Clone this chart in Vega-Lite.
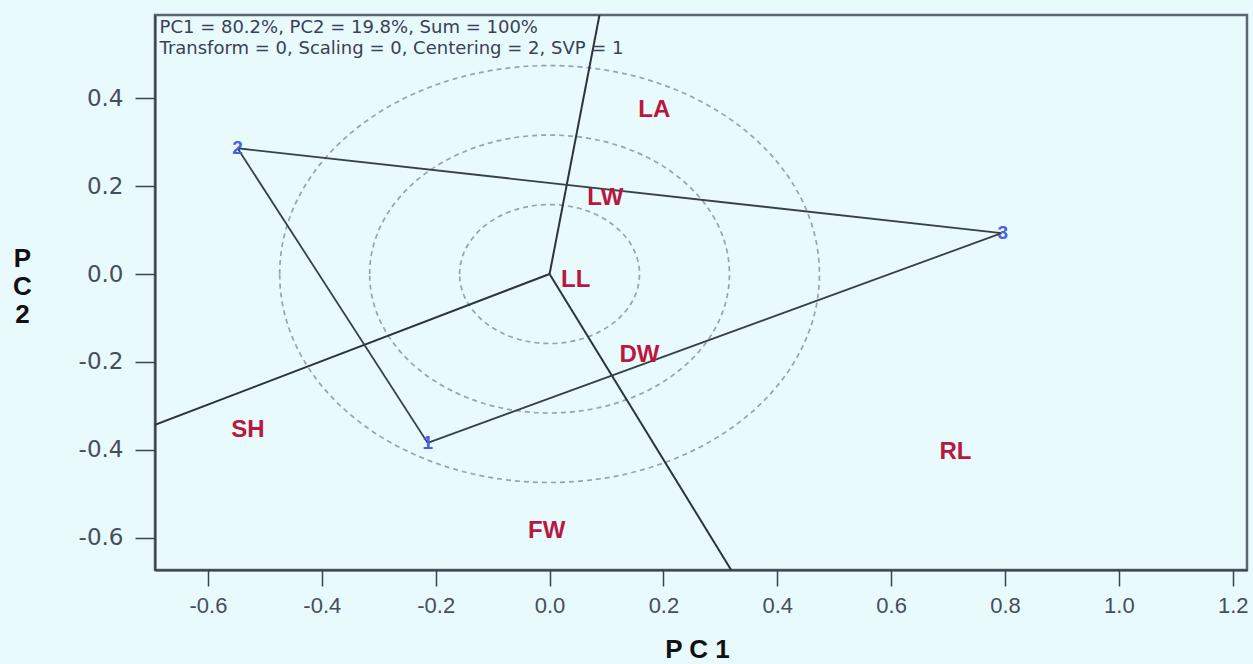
{
  "$schema": "https://vega.github.io/schema/vega-lite/v6.json",
  "width": 1092,
  "height": 555,
  "autosize": {"type": "none"},
  "padding": {"left": 155, "top": 15, "right": 6, "bottom": 94},
  "background": "#e8fafc",
  "config": {
    "view": {"stroke": "#5b6470", "strokeWidth": 2.5, "fill": "#e8fafc"},
    "axis": {"grid": false}
  },
  "datasets": {
    "circles": [{"cx": 0, "cy": 0, "r": 0.158}, {"cx": 0, "cy": 0, "r": 0.316}, {"cx": 0, "cy": 0, "r": 0.474}],
    "rays": [
      {"x1": 0, "y1": 0, "x2": 0.0877, "y2": 0.589},
      {"x1": 0, "y1": 0, "x2": -0.693, "y2": -0.343},
      {"x1": 0, "y1": 0, "x2": 0.319, "y2": -0.673}
    ],
    "hull": [
      {"seq": 1, "gen": "2", "x": -0.548, "y": 0.286},
      {"seq": 2, "gen": "3", "x": 0.794, "y": 0.093},
      {"seq": 3, "gen": "1", "x": -0.214, "y": -0.384},
      {"seq": 4, "gen": "2", "x": -0.548, "y": 0.286}
    ],
    "genotypes": [
      {"gen": "1", "x": -0.214, "y": -0.384},
      {"gen": "2", "x": -0.548, "y": 0.286},
      {"gen": "3", "x": 0.796, "y": 0.093}
    ],
    "traits": [
      {"trait": "LA", "x": 0.184, "y": 0.373},
      {"trait": "LW", "x": 0.098, "y": 0.173},
      {"trait": "LL", "x": 0.046, "y": -0.014},
      {"trait": "DW", "x": 0.158, "y": -0.184},
      {"trait": "SH", "x": -0.530, "y": -0.355},
      {"trait": "FW", "x": -0.005, "y": -0.584},
      {"trait": "RL", "x": 0.713, "y": -0.405}
    ],
    "info": [
      {"text": "PC1 = 80.2%, PC2 = 19.8%, Sum = 100%", "x": -0.685, "y": 0.548},
      {"text": "Transform = 0, Scaling = 0, Centering = 2, SVP = 1", "x": -0.685, "y": 0.500}
    ]
  },
  "layer": [
    {
      "data": {"name": "circles"},
      "mark": {"type": "point", "shape": "M-1,0A1,0.7725,0,1,1,1,0A1,0.7725,0,1,1,-1,0Z", "filled": false, "stroke": "#95a2b8", "strokeWidth": 1.7, "strokeDash": [5, 4], "opacity": 1},
      "encoding": {
        "x": {"field": "cx", "type": "quantitative",
          "scale": {"domain": [-0.693, 1.225], "nice": false, "zero": false},
          "axis": {
            "values": [-0.6, -0.4, -0.2, 0, 0.2, 0.4, 0.6, 0.8, 1.0, 1.2],
            "labelExpr": "replace(format(datum.value, '.1f'), '\u2212', '-')",
            "domainColor": "#3a4250", "domainWidth": 2,
            "tickColor": "#3a4250", "tickWidth": 1.5, "tickSize": 16,
            "labelPadding": 9, "labelFont": "Liberation Sans", "labelFontSize": 22, "labelColor": "#474d5c",
            "title": "P  C  1", "titleFont": "Liberation Sans", "titleFontSize": 26, "titleFontWeight": "bold", "titleColor": "#111111",
            "titleX": 542, "titleY": 87, "titleBaseline": "alphabetic"
          }
        },
        "y": {"field": "cy", "type": "quantitative",
          "scale": {"domain": [-0.673, 0.589], "nice": false, "zero": false},
          "axis": {
            "values": [-0.6, -0.4, -0.2, 0, 0.2, 0.4],
            "labelExpr": "replace(format(datum.value, '.1f'), '\u2212', '-')",
            "domainColor": "#3a4250", "domainWidth": 2,
            "tickColor": "#3a4250", "tickWidth": 1.5, "tickSize": 20,
            "labelPadding": 12, "labelFont": "DejaVu Sans", "labelFontSize": 23, "labelColor": "#474d5c",
            "title": ["P", "C", "2"], "titleAngle": 0, "titleFont": "Liberation Sans", "titleFontSize": 26, "titleFontWeight": "bold", "titleColor": "#111111",
            "titleLineHeight": 28, "titleAlign": "center", "titleBaseline": "top", "titleX": -133, "titleY": 230
          }
        },
        "size": {"field": "r", "type": "quantitative", "scale": {"type": "pow", "exponent": 2, "domain": [0, 0.474], "range": [0, 291300]}, "legend": null}
      }
    },
    {
      "data": {"name": "rays"},
      "mark": {"type": "rule", "color": "#2c333d", "strokeWidth": 2, "clip": true},
      "encoding": {
        "x": {"field": "x1", "type": "quantitative"},
        "y": {"field": "y1", "type": "quantitative"},
        "x2": {"field": "x2"},
        "y2": {"field": "y2"}
      }
    },
    {
      "data": {"name": "hull"},
      "mark": {"type": "line", "color": "#3a4048", "strokeWidth": 1.8},
      "encoding": {
        "x": {"field": "x", "type": "quantitative"},
        "y": {"field": "y", "type": "quantitative"},
        "order": {"field": "seq", "type": "quantitative"}
      }
    },
    {
      "data": {"name": "genotypes"},
      "mark": {"type": "text", "font": "Liberation Sans", "fontSize": 19, "fontWeight": "bold", "color": "#4a5ee6", "align": "center", "baseline": "middle"},
      "encoding": {
        "x": {"field": "x", "type": "quantitative"},
        "y": {"field": "y", "type": "quantitative"},
        "text": {"field": "gen"}
      }
    },
    {
      "data": {"name": "traits"},
      "mark": {"type": "text", "font": "Liberation Sans", "fontSize": 24, "fontWeight": "bold", "color": "#b8183e", "align": "center", "baseline": "middle"},
      "encoding": {
        "x": {"field": "x", "type": "quantitative"},
        "y": {"field": "y", "type": "quantitative"},
        "text": {"field": "trait"}
      }
    },
    {
      "data": {"name": "info"},
      "mark": {"type": "text", "font": "DejaVu Sans", "fontSize": 18, "color": "#3a4058", "align": "left", "baseline": "alphabetic"},
      "encoding": {
        "x": {"field": "x", "type": "quantitative"},
        "y": {"field": "y", "type": "quantitative"},
        "text": {"field": "text"}
      }
    }
  ]
}
